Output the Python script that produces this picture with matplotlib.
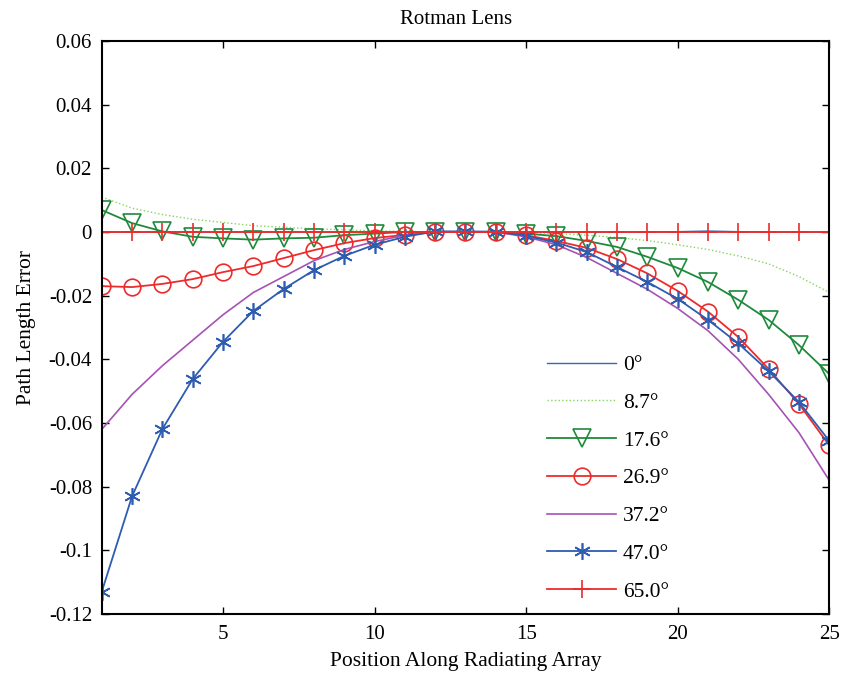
import numpy as np
import matplotlib
matplotlib.use("Agg")
import matplotlib.pyplot as plt

plt.rcParams['font.family'] = ['Liberation Serif', 'DejaVu Serif']
plt.rcParams['mathtext.fontset'] = 'stix'

# ------ DATA ------
position = list(range(1, 26))

err_0 = [0, 0, 0, 0, 0, 0, 0, 0, 0, 0, 0, 0, 0, 0, 0, 0, 0, 0, 0,
         0.0001, 0.0003, 0.0001, 0, 0, 0]
err_8_7 = [0.011, 0.0075, 0.0055, 0.004, 0.003, 0.002, 0.0015, 0.001, 0.0007,
           0.0004, 0.0002, 0, 0, 0, -0.0002, -0.0005, -0.001, -0.0017, -0.0027,
           -0.004, -0.0055, -0.0075, -0.010, -0.014, -0.019]
err_17_6 = [0.0069, 0.0028, 0.0002, -0.0015, -0.002, -0.0024, -0.002, -0.0018,
            -0.001, -0.0005, 0, 0, 0, 0, -0.0005, -0.0013, -0.0028, -0.0047,
            -0.0078, -0.0113, -0.0157, -0.0213, -0.0276, -0.0355, -0.0446]
err_26_9 = [-0.017, -0.0173, -0.0163, -0.0148, -0.0126, -0.0107, -0.0082,
            -0.0057, -0.0035, -0.0019, -0.0009, 0, 0, 0, -0.001, -0.0028,
            -0.005, -0.0085, -0.013, -0.0185, -0.025, -0.033, -0.043, -0.054,
            -0.067]
err_37_2 = [-0.062, -0.051, -0.042, -0.034, -0.026, -0.019, -0.014, -0.009,
            -0.0055, -0.003, -0.001, 0, 0, 0, -0.0015, -0.004, -0.008, -0.013,
            -0.018, -0.024, -0.031, -0.040, -0.051, -0.063, -0.078]
err_47_0 = [-0.113, -0.083, -0.0619, -0.0462, -0.0345, -0.0248, -0.0179,
            -0.012, -0.0075, -0.004, -0.0015, 0.0002, 0.0002, 0.0001, -0.0012,
            -0.0033, -0.0063, -0.011, -0.0157, -0.021, -0.0276, -0.035,
            -0.0437, -0.0534, -0.0656]
err_65_0 = [0] * 25

labels = ['0°', '8.7°', '17.6°', '26.9°', '37.2°', '47.0°', '65.0°']
yticks = [0.06, 0.04, 0.02, 0, -0.02, -0.04, -0.06, -0.08, -0.1, -0.12]
ytick_labels = ['0.06', '0.04', '0.02', '0', '-0.02', '-0.04', '-0.06',
                '-0.08', '-0.1', '-0.12']
xticks = [5, 10, 15, 20, 25]

# ------ PLOT ------
fig = plt.figure(figsize=(8.41, 6.79), dpi=100)
ax = fig.add_axes([0.121, 0.0957, 0.865, 0.8439])

ax.plot(position, err_0, color='#3566b8', lw=1.0, label=labels[0])
ax.plot(position, err_8_7, color='#86d45e', lw=1.0, ls=':', label=labels[1])
ax.plot(position, err_17_6, color='#1f8a3c', lw=1.3, marker='v', ms=13,
        mfc='none', mew=1.2, label=labels[2])
ax.plot(position, err_26_9, color='#ee2b2b', lw=1.3, marker='o', ms=12,
        mfc='none', mew=1.2, label=labels[3])
ax.plot(position, err_37_2, color='#a652b5', lw=1.2, label=labels[4])
ax.plot(position, err_47_0, color='#2d5cb0', lw=1.3, marker=(6, 2, 0), ms=12,
        mew=1.2, label=labels[5])
ax.plot(position, err_65_0, color='#ee2b2b', lw=1.3, marker='+', ms=13,
        mew=1.2, label=labels[6])

ax.set_xlim(1, 25)
ax.set_ylim(-0.12, 0.06)
ax.set_xticks(xticks)
ax.set_xticklabels([str(t) for t in xticks])
ax.set_yticks(yticks)
ax.set_yticklabels(ytick_labels)
ax.tick_params(direction='in', top=True, right=True, labelsize=15,
               length=5, width=1)
ax.tick_params(axis='y', pad=7)
ax.tick_params(axis='x', pad=8)
for s in ax.spines.values():
    s.set_linewidth(1.5)

ax.set_xlabel('Position Along Radiating Array', fontsize=15.5, labelpad=6)
ax.set_ylabel('Path Length Error', fontsize=15.5, labelpad=9)
ax.set_title('Rotman Lens', fontsize=15, x=0.487, pad=12)

ax.legend(loc='lower left', bbox_to_anchor=(0.586, -0.012), frameon=False,
          fontsize=15.5, handlelength=3.2, numpoints=1, labelspacing=0.82,
          handletextpad=0.3)

plt.savefig('out.png', dpi=100)
